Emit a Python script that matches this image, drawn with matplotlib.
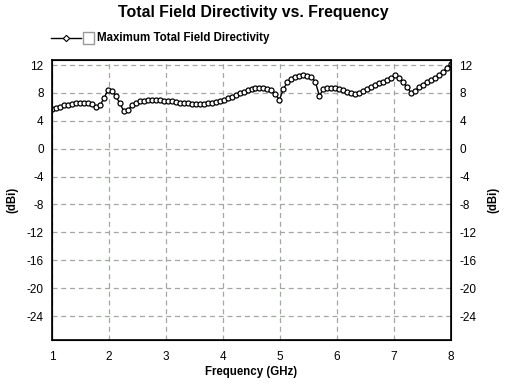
import matplotlib
matplotlib.use("Agg")
import matplotlib.pyplot as plt
from matplotlib.lines import Line2D
from matplotlib.patches import Rectangle

plt.rcParams['font.family'] = ['Liberation Sans', 'DejaVu Sans']
plt.rcParams['axes.unicode_minus'] = False

# frequency points (GHz)
freq = [1.00, 1.07, 1.14, 1.21, 1.28, 1.35, 1.42, 1.49, 1.56, 1.63,
        1.70, 1.77, 1.84, 1.91, 1.98, 2.05, 2.12, 2.19, 2.26, 2.33,
        2.40, 2.47, 2.54, 2.61, 2.68, 2.75, 2.82, 2.89, 2.96, 3.03,
        3.10, 3.17, 3.24, 3.31, 3.38, 3.45, 3.52, 3.59, 3.66, 3.73,
        3.80, 3.87, 3.94, 4.01, 4.08, 4.15, 4.22, 4.29, 4.36, 4.43,
        4.50, 4.57, 4.64, 4.71, 4.78, 4.85, 4.92, 4.99, 5.06, 5.13,
        5.20, 5.27, 5.34, 5.41, 5.48, 5.55, 5.62, 5.69, 5.76, 5.83,
        5.90, 5.97, 6.04, 6.11, 6.18, 6.25, 6.32, 6.39, 6.46, 6.53,
        6.60, 6.67, 6.74, 6.81, 6.88, 6.95, 7.02, 7.09, 7.16, 7.23,
        7.30, 7.37, 7.44, 7.51, 7.58, 7.65, 7.72, 7.79, 7.86, 7.93,
        8.00]

# max total field directivity (dBi)
directivity = [5.7, 5.9, 6.05, 6.2, 6.3, 6.4, 6.5, 6.55, 6.6, 6.55,
               6.35, 6.0, 6.2, 7.2, 8.4, 8.3, 7.5, 6.5, 5.4, 5.5,
               6.2, 6.6, 6.8, 6.9, 6.95, 6.95, 6.95, 6.95, 6.9, 6.85,
               6.8, 6.7, 6.6, 6.55, 6.5, 6.45, 6.45, 6.45, 6.45, 6.5,
               6.55, 6.65, 6.8, 7.0, 7.2, 7.45, 7.7, 7.95, 8.2, 8.4,
               8.6, 8.7, 8.75, 8.7, 8.6, 8.4, 7.8, 7.0, 8.6, 9.5,
               10.0, 10.3, 10.45, 10.5, 10.45, 10.3, 9.6, 7.6, 8.5, 8.7,
               8.7, 8.65, 8.6, 8.4, 8.2, 8.0, 7.9, 8.0, 8.3, 8.6,
               8.85, 9.1, 9.35, 9.6, 9.9, 10.2, 10.5, 10.2, 9.5, 8.8,
               8.0, 8.3, 8.8, 9.2, 9.6, 9.9, 10.2, 10.6, 11.0, 11.6,
               12.2]

x_ticks = [1, 2, 3, 4, 5, 6, 7, 8]
y_ticks = [12, 8, 4, 0, -4, -8, -12, -16, -20, -24]

fig = plt.figure(figsize=(5.08, 3.88), dpi=100)
ax = fig.add_axes([52 / 508, 1 - 340 / 388, 399 / 508, 280 / 388])

ax.plot(freq, directivity, color='black', lw=1, marker='o', ms=3.6,
        mfc='white', mec='black', mew=0.9)

ax.set_xlim(1, 8)
ax.set_ylim(-27.44, 12.72)
ax.set_xticks(x_ticks)
ax.set_yticks(y_ticks)
ax.grid(True, color='#a0a8a0', ls=(0, (4, 3)), lw=0.9)
ax.tick_params(length=0, labelsize=8.5, pad=8)
ax.tick_params(axis='y', pad=6)
for s in ax.spines.values():
    s.set_linewidth(1.2)

ax2 = ax.twinx()
ax2.set_ylim(ax.get_ylim())
ax2.set_yticks(y_ticks)
ax2.tick_params(length=0, labelsize=8.5, pad=6)

ax.set_xlabel('Frequency (GHz)', fontsize=8.3, fontweight='bold', labelpad=2)
ax.set_ylabel('(dBi)', fontsize=8.3, fontweight='bold', labelpad=6)
ax2.set_ylabel('(dBi)', fontsize=8.3, fontweight='bold', labelpad=8)

fig.text(253 / 508, 1 - 12 / 388, 'Total Field Directivity vs. Frequency',
         ha='center', va='center', fontsize=11.4, fontweight='bold')

# legend drawn above the plot
ly = 1 - 38 / 388
fig.add_artist(Line2D([51 / 508, 81 / 508], [ly, ly], color='black', lw=1,
                      transform=fig.transFigure))
fig.add_artist(Line2D([66 / 508], [ly], marker='D', ms=3.2, mfc='white',
                      mec='black', mew=0.8, transform=fig.transFigure))
fig.add_artist(Rectangle((83 / 508, ly - 6 / 388), 11 / 508, 12 / 388,
                         fill=False, ec='#999999', lw=1,
                         transform=fig.transFigure))
fig.text(97 / 508, ly, 'Maximum Total Field Directivity', ha='left',
         va='center', fontsize=8.3, fontweight='bold')

fig.savefig('out.png', dpi=100)
